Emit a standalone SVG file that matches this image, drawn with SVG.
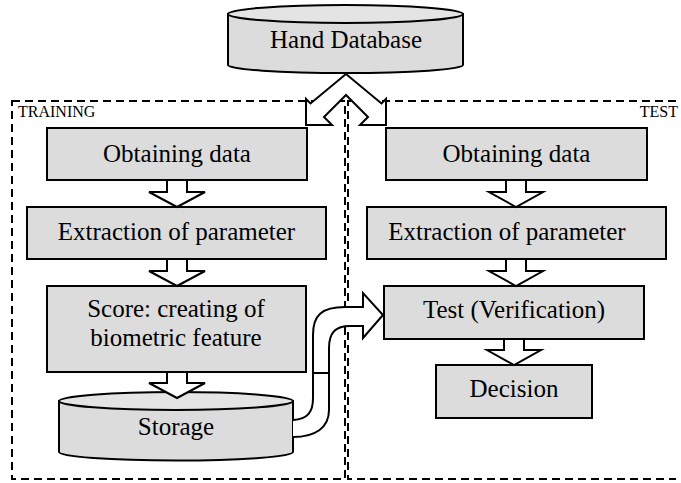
<svg xmlns="http://www.w3.org/2000/svg" width="681" height="483" viewBox="0 0 681 483">
<style>
.box{fill:#dcdcdc;stroke:#000;stroke-width:2}
.cyl{fill:#dcdcdc;stroke:#000;stroke-width:2}
.cyltop{fill:#e4e4e4;stroke:#000;stroke-width:2}
.t{font-size:25px;fill:#000;text-anchor:middle}
.lbl{font-size:16px;fill:#000}
.frame{fill:none;stroke:#000;stroke-width:2;stroke-dasharray:8 5}
.arr{fill:#fff;stroke:#000;stroke-width:2;stroke-linejoin:miter}
</style>
<rect width="681" height="483" fill="#fff"/>
<g font-family="'Liberation Serif', 'Times New Roman', 'DejaVu Serif', serif">
<g id="training">
<rect class="frame" x="12" y="101" width="333" height="378"/>
<text class="lbl" x="18" y="117">TRAINING</text>
</g>
<g id="test">
<path class="frame" d="M676,101 H348 V479 H676"/>
<text class="lbl" x="678" y="117" text-anchor="end">TEST</text>
</g>
<g id="hand-database">
<path class="cyl" d="M228,14 V65 A117.5,8 0 0 0 463,65 V14 Z"/>
<ellipse class="cyltop" cx="345.5" cy="14" rx="117.5" ry="9"/>
<text class="t" x="346" y="48">Hand Database</text>
</g>
<g id="train-obtain">
<rect class="box" x="47" y="128" width="260" height="52"/>
<text class="t" x="177" y="162">Obtaining data</text>
</g>
<g id="train-extract">
<rect class="box" x="27" y="207" width="299" height="52"/>
<text class="t" x="176.5" y="240">Extraction of parameter</text>
</g>
<g id="train-score">
<rect class="box" x="47" y="286" width="259" height="86"/>
<text class="t" x="176" y="317">Score: creating of</text>
<text class="t" x="176" y="346">biometric feature</text>
</g>
<g id="storage">
<path class="cyl" d="M59,401 V452 A117,8.5 0 0 0 293,452 V401 Z"/>
<ellipse class="cyltop" cx="176" cy="401" rx="117" ry="9"/>
<text class="t" x="176" y="435">Storage</text>
</g>
<g id="test-obtain">
<rect class="box" x="386" y="128" width="261" height="52"/>
<text class="t" x="516.5" y="162">Obtaining data</text>
</g>
<g id="test-extract">
<rect class="box" x="367" y="207" width="299" height="52"/>
<text class="t" x="507" y="240">Extraction of parameter</text>
</g>
<g id="test-verify">
<rect class="box" x="384" y="286" width="260" height="53"/>
<text class="t" x="514" y="318">Test (Verification)</text>
</g>
<g id="decision">
<rect class="box" x="436" y="365" width="156" height="53"/>
<text class="t" x="514" y="397">Decision</text>
</g>
</g>
<g id="connectors">
<polygon class="arr" points="346,74 310.5,103.5 306,99 306,125 332,125 324,117 346,95 368,117 360,125 386,125 386,99 381.5,103.5"/>
<polygon class="arr" points="167,180 187,180 187,192 205,192 177,207 149,192 167,192"/>
<polygon class="arr" points="167,259 187,259 187,271 205,271 177,286 149,271 167,271"/>
<polygon class="arr" points="167,372 187,372 187,383 205,383 177,398 149,383 167,383"/>
<polygon class="arr" points="506,180 526,180 526,192 543,192 516,207 489,192 506,192"/>
<polygon class="arr" points="506,259 526,259 526,271 543,271 516,286 489,271 506,271"/>
<polygon class="arr" points="504,339 524,339 524,350 541,350 514,365 487,350 504,350"/>
<path class="arr" d="M293,420 C308,419 313,412 313,398 L313,335 C313,315 322,307 345,307 L363,307 L363,293 L383,315 L363,338 L363,326 L350,326 C336,326 329,332 329,348 L329,410 C329,428 315,437 293,437"/>
<line x1="313" y1="373" x2="329" y2="373" stroke="#000" stroke-width="2"/>
</g>
</svg>
